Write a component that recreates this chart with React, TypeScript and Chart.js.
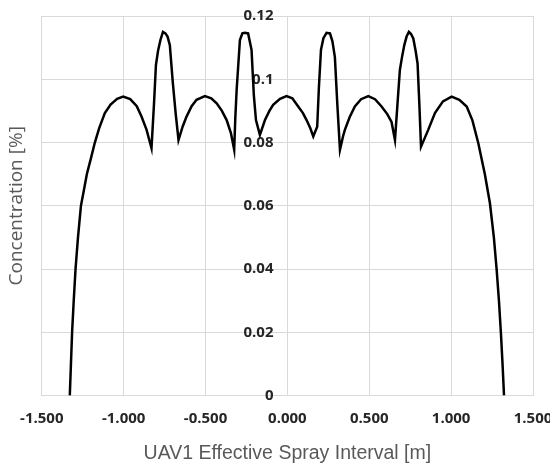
import React, { useEffect, useRef } from "react";
import { Chart, registerables } from "chart.js";

Chart.register(...registerables);

// Effective spray interval [m]
const xValues: number[] = [
  -1.329, -1.322, -1.315, -1.305, -1.294, -1.279, -1.261, -1.241, -1.225, -1.2, -1.176, -1.15, -1.115, -1.08, -1.04,
  -1.003, -0.96, -0.92, -0.891, -0.86, -0.83,
  -0.815, -0.803, -0.79, -0.775, -0.76, -0.745, -0.732, -0.718, -0.7, -0.682, -0.665,
  -0.64, -0.616, -0.585, -0.555, -0.504, -0.465, -0.432, -0.4, -0.371, -0.345, -0.325,
  -0.318, -0.31, -0.29, -0.275, -0.26, -0.24, -0.23, -0.219, -0.205, -0.192, -0.168,
  -0.137, -0.11, -0.087, -0.045, -0.005, 0.03, 0.066, 0.095, 0.117, 0.14, 0.158,
  0.17, 0.182, 0.192, 0.205, 0.22, 0.239, 0.26, 0.275, 0.29, 0.305, 0.321,
  0.34, 0.351, 0.38, 0.412, 0.45, 0.494, 0.535, 0.575, 0.61, 0.636, 0.657,
  0.672, 0.687, 0.7, 0.714, 0.728, 0.742, 0.755, 0.769, 0.783, 0.795, 0.806, 0.816,
  0.86, 0.901, 0.95, 1.003, 1.05, 1.095, 1.13, 1.166, 1.206, 1.237, 1.261, 1.278, 1.292, 1.304, 1.314, 1.323,
];

// Concentration [%]
const yValues: number[] = [
  0, 0.01, 0.02, 0.03, 0.04, 0.05, 0.06, 0.0655, 0.07, 0.075, 0.08, 0.0845, 0.0893, 0.092, 0.0938,
  0.0945, 0.0937, 0.0915, 0.0882, 0.084, 0.0782,
  0.092, 0.1045, 0.109, 0.1125, 0.115, 0.1145, 0.1135, 0.1108, 0.099, 0.089, 0.0808,
  0.085, 0.0882, 0.0915, 0.0935, 0.0947, 0.094, 0.0924, 0.09, 0.0871, 0.083, 0.0777,
  0.088, 0.0966, 0.1124, 0.1145, 0.1147, 0.1145, 0.112, 0.1093, 0.095, 0.0871, 0.0824,
  0.0871, 0.09, 0.0919, 0.0938, 0.0947, 0.094, 0.0914, 0.0893, 0.0871, 0.0845, 0.0819,
  0.0835, 0.085, 0.097, 0.1093, 0.113, 0.1147, 0.1145, 0.112, 0.107, 0.092, 0.0777,
  0.082, 0.084, 0.088, 0.0914, 0.0937, 0.0947, 0.0937, 0.0914, 0.089, 0.0865, 0.0808,
  0.092, 0.103, 0.107, 0.1108, 0.1135, 0.115, 0.1143, 0.1129, 0.109, 0.105, 0.092, 0.0787,
  0.084, 0.0893, 0.093, 0.0945, 0.0935, 0.0914, 0.087, 0.0798, 0.07, 0.0608, 0.05, 0.0398, 0.03, 0.0198, 0.01, 0,
];

const xTickValues: number[] = [-1.5, -1.0, -0.5, 0, 0.5, 1.0, 1.5];
const yTickValues: number[] = [0, 0.02, 0.04, 0.06, 0.08, 0.1, 0.12];

const xTitle = "UAV1 Effective Spray Interval [m]";
const yTitle = "Concentration [%]";

export default function App() {
  const canvasRef = useRef<HTMLCanvasElement | null>(null);

  useEffect(() => {
    document.body.style.margin = "0";
    const canvas = canvasRef.current;
    if (!canvas) return;
    const points = xValues.map((x, i) => ({ x, y: yValues[i] }));
    const gridColor = "#d9d9d9";
    const tickColor = "#262626";
    const titleColor = "#595959";

    const chart = new Chart(canvas, {
      type: "line",
      data: {
        datasets: [
          {
            data: points,
            borderColor: "#000000",
            borderWidth: 2.5,
            pointRadius: 0,
            tension: 0,
            fill: false,
            yAxisID: "y",
            xAxisID: "x",
          },
        ],
      },
      options: {
        animation: false,
        responsive: false,
        devicePixelRatio: 1,
        layout: { padding: { top: 16, right: 17, bottom: 0, left: 0 } },
        plugins: { legend: { display: false }, tooltip: { enabled: false } },
        scales: {
          x: {
            type: "linear",
            min: -1.5,
            max: 1.5,
            afterBuildTicks: (s: any) => {
              s.ticks = xTickValues.map((v) => ({ value: v }));
            },
            afterFit: (s: any) => {
              s.paddingRight = 0;
            },
            grid: { color: gridColor, lineWidth: 1, drawTicks: false },
            border: { display: false },
            ticks: {
              padding: 14,
              color: tickColor,
              font: { family: "'Open Sans'", size: 15, weight: "bold" },
              maxRotation: 0,
              callback: (v: any) => Number(v).toFixed(3),
            },
            title: {
              display: true,
              text: xTitle,
              color: titleColor,
              font: { family: "'Liberation Sans'", size: 19.5 },
              padding: { top: 0, bottom: 1 },
            },
          },
          y: {
            type: "linear",
            position: "left",
            min: 0,
            max: 0.12,
            afterBuildTicks: (s: any) => {
              s.ticks = yTickValues.map((v) => ({ value: v }));
            },
            grid: { color: gridColor, lineWidth: 1, drawTicks: false },
            border: { display: false },
            ticks: { display: false },
            title: {
              display: true,
              text: yTitle,
              color: titleColor,
              font: { family: "'Open Sans'", size: 19 },
              padding: { top: 5, bottom: 14 },
            },
          },
          y2: {
            type: "linear",
            position: { x: -0.085 } as any,
            min: 0,
            max: 0.12,
            afterBuildTicks: (s: any) => {
              s.ticks = yTickValues.map((v) => ({ value: v }));
            },
            afterFit: (s: any) => {
              s.width = 0;
            },
            grid: { display: false, drawTicks: false },
            border: { display: false },
            ticks: {
              padding: 0,
              color: tickColor,
              font: { family: "'Open Sans'", size: 15, weight: "bold" },
              callback: (v: any) => String(Number(Number(v).toFixed(2))),
            },
          },
        },
      },
    });

    return () => chart.destroy();
  }, []);

  return (
    <div style={{ width: 550, height: 466, position: "relative" }}>
      <canvas ref={canvasRef} width={550} height={466} />
    </div>
  );
}
